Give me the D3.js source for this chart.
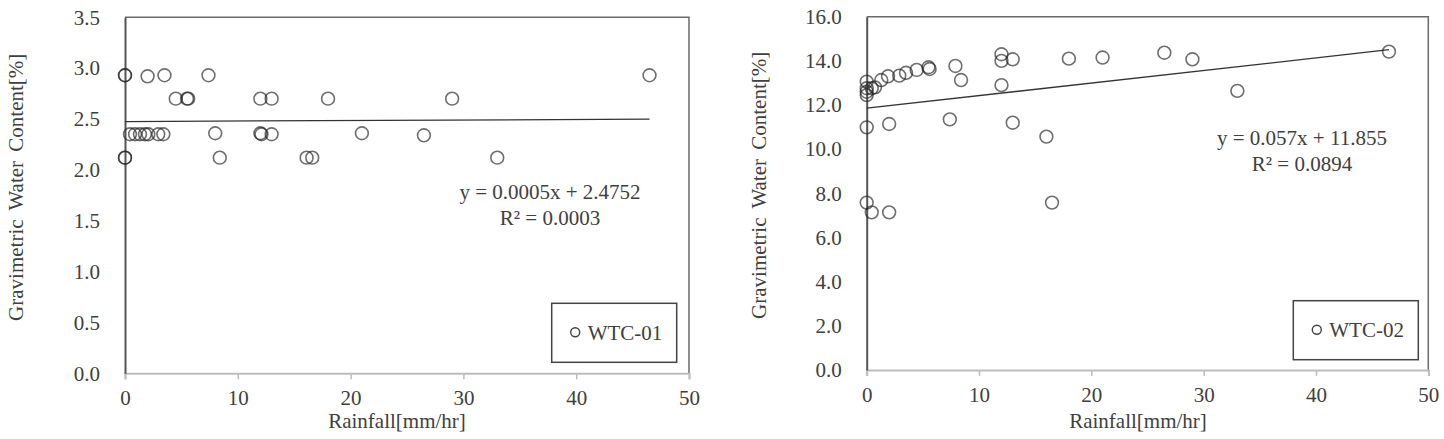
<!DOCTYPE html>
<html>
<head>
<meta charset="utf-8">
<script src="https://cdn.jsdelivr.net/npm/d3@7"></script>
<style>
  body { margin: 0; background: #fff; }
  svg { display: block; }
  text { font-family: "Liberation Serif", "Times New Roman", serif; fill: #404040; }
</style>
</head>
<body>
<svg id="chart" width="1444" height="439"></svg>
<script>
'use strict';

// WTC-01 : rainfall [mm/hr] vs gravimetric water content [%]
const rain01 = [0, 0, 0, 0, 0.44, 0.89, 1.33, 1.77, 2.07, 2.0, 2.95, 3.4, 3.5,
  4.5, 5.5, 5.6, 7.4, 8.0, 8.4, 12.0, 12.0, 12.1, 13.0, 13.0, 16.1, 16.6, 18.0,
  21.0, 26.5, 29.0, 33.0, 46.5];
const wc01 = [2.93, 2.93, 2.12, 2.12, 2.35, 2.35, 2.35, 2.35, 2.35, 2.92, 2.35, 2.35, 2.93,
  2.70, 2.70, 2.70, 2.93, 2.36, 2.12, 2.70, 2.36, 2.35, 2.70, 2.35, 2.12, 2.12, 2.70,
  2.36, 2.34, 2.70, 2.12, 2.93];

// WTC-02
const rain02 = [0, 0, 0, 0, 0, 0, 0.45, 0.45, 0.74, 1.3, 1.9, 2.0, 2.0,
  2.9, 3.5, 4.45, 5.5, 5.6, 7.4, 7.9, 8.4, 12.0, 12.0, 12.0, 13.0, 13.0,
  16.0, 16.5, 18.0, 21.0, 26.5, 29.0, 33.0, 46.5];
const wc02 = [13.06, 12.76, 12.6, 12.45, 10.99, 7.58, 12.76, 7.14, 12.8, 13.13, 13.3, 11.14, 7.14,
  13.33, 13.46, 13.59, 13.71, 13.63, 11.35, 13.77, 13.13, 14.3, 14.0, 12.9, 14.07, 11.2,
  10.57, 7.58, 14.1, 14.15, 14.37, 14.07, 12.64, 14.42];

// trend lines as printed on the chart: slope, intercept, R²
const fit01 = [0.0005, 2.4752, 0.0003];
const fit02 = [0.057, 11.855, 0.0894];

const xTicks = [0, 10, 20, 30, 40, 50];
const yTicks01 = [0, 0.5, 1, 1.5, 2, 2.5, 3, 3.5];
const yTicks02 = [0, 2, 4, 6, 8, 10, 12, 14, 16];
const seriesNames = ['WTC-01', 'WTC-02'];

const fontSize = 21;
const serif = '"Liberation Serif", "Times New Roman", serif';
const svg = d3.select('#chart');

const panels = [
  {name: seriesNames[0], xs: rain01, ys: wc01, fit: fit01, yTicks: yTicks01,
   left: 125, right: 689, top: 17.3, bottom: 373.3,
   eqX: 550, eqY: 199, legX: 551.7, legY: 303.3, yTitleX: 16, xTitleX: 397},
  {name: seriesNames[1], xs: rain02, ys: wc02, fit: fit02, yTicks: yTicks02,
   left: 866.7, right: 1428.3, top: 16.7, bottom: 370,
   eqX: 1302, eqY: 145, legX: 1293.3, legY: 300.7, yTitleX: 759, xTitleX: 1138}
];

panels.forEach(p => drawPanel(p));

function drawPanel(p) {
  const x = d3.scaleLinear().domain([0, 50]).range([p.left, p.right]);
  const yMax = p.yTicks[p.yTicks.length - 1];
  const y = d3.scaleLinear().domain([0, yMax]).range([p.bottom, p.top]);
  const g = svg.append('g');

  // frame: top + right
  g.append('path')
    .attr('d', `M${p.left},${p.top}H${p.right}V${p.bottom}`)
    .attr('fill', 'none')
    .attr('stroke', '#6b6b6b')
    .attr('stroke-width', 1.5);

  // x axis
  const xAxis = g.append('g')
    .attr('transform', `translate(0,${p.bottom})`)
    .call(d3.axisBottom(x).tickValues(xTicks).tickSize(6).tickPadding(11).tickFormat(d3.format('d')));
  xAxis.attr('font-family', serif);
  xAxis.select('.domain').attr('stroke', '#bdbdbd').attr('stroke-width', 2);
  xAxis.selectAll('.tick line').attr('stroke', '#bdbdbd').attr('stroke-width', 1.5);
  xAxis.selectAll('text')
    .attr('font-size', fontSize)
    .attr('fill', '#404040');

  // y axis
  const yAxis = g.append('g')
    .attr('transform', `translate(${p.left},0)`)
    .call(d3.axisLeft(y).tickValues(p.yTicks).tickSize(0).tickPadding(25).tickFormat(d3.format('.1f')));
  yAxis.attr('font-family', serif);
  yAxis.select('.domain').attr('stroke', '#555').attr('stroke-width', 2);
  yAxis.selectAll('text')
    .attr('font-size', fontSize)
    .attr('fill', '#404040');

  // trend line
  const xEnd = d3.max(p.xs);
  g.append('line')
    .attr('x1', x(0)).attr('y1', y(p.fit[1]))
    .attr('x2', x(xEnd)).attr('y2', y(p.fit[0] * xEnd + p.fit[1]))
    .attr('stroke', '#333')
    .attr('stroke-width', 1.3);

  // points
  g.selectAll('circle.pt')
    .data(p.xs.map((v, i) => [v, p.ys[i]]))
    .join('circle')
    .attr('class', 'pt')
    .attr('cx', d => x(d[0]))
    .attr('cy', d => y(d[1]))
    .attr('r', 6.4)
    .attr('fill', 'none')
    .attr('stroke', '#222')
    .attr('stroke-opacity', 0.65)
    .attr('stroke-width', 1.6);

  // equation
  const eq = g.append('text')
    .attr('text-anchor', 'middle')
    .attr('font-size', fontSize);
  eq.append('tspan').attr('x', p.eqX).attr('y', p.eqY)
    .text(`y = ${p.fit[0]}x + ${p.fit[1]}`);
  eq.append('tspan').attr('x', p.eqX).attr('y', p.eqY + 26)
    .text(`R² = ${p.fit[2].toFixed(4)}`);

  // legend
  const leg = g.append('g').attr('transform', `translate(${p.legX},${p.legY})`);
  leg.append('rect')
    .attr('width', 125).attr('height', 59)
    .attr('fill', '#fff')
    .attr('stroke', '#444')
    .attr('stroke-width', 1.5);
  leg.append('circle')
    .attr('cx', 23.5).attr('cy', 29).attr('r', 4.5)
    .attr('fill', 'none').attr('stroke', '#444').attr('stroke-width', 1.4);
  leg.append('text')
    .attr('x', 36).attr('y', 36.5)
    .attr('font-size', fontSize)
    .text(p.name);

  // axis titles
  g.append('text')
    .attr('transform', `translate(${p.yTitleX},${(p.top + p.bottom) / 2 - 8}) rotate(-90)`)
    .attr('text-anchor', 'middle')
    .attr('dominant-baseline', 'central')
    .attr('font-size', fontSize)
    .attr('word-spacing', 4)
    .text('Gravimetric Water Content[%]');

  g.append('text')
    .attr('x', p.xTitleX)
    .attr('y', 428)
    .attr('text-anchor', 'middle')
    .attr('font-size', fontSize)
    .text('Rainfall[mm/hr]');
}
</script>
</body>
</html>
